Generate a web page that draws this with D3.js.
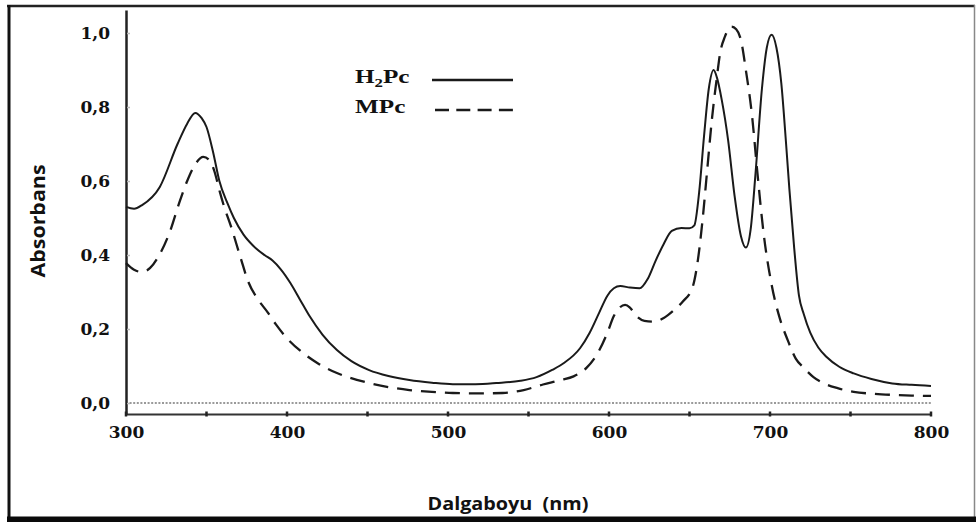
<!DOCTYPE html>
<html>
<head>
<meta charset="utf-8">
<script src="https://cdn.jsdelivr.net/npm/d3@7"></script>
<style>
  html, body { margin: 0; padding: 0; background: #fff; }
  svg { display: block; }
  .tick-label { font-family: "DejaVu Serif", serif; font-weight: bold; font-size: 17px; fill: #111; }
  .legend text { font-family: "Liberation Serif", serif; font-weight: bold; font-size: 18px; fill: #111; }
  .title { font-family: "Open Sans", sans-serif; font-weight: bold; font-size: 18px; fill: #111; white-space: pre; }
</style>
</head>
<body>
<svg id="chart" width="976" height="522"></svg>
<script>
// wavelengths (nm) and absorbance
const h2pcNm = [300, 305, 310, 321, 332, 338, 343, 347, 350, 354, 358, 363, 367, 373, 379, 386, 391, 396,
  402, 408, 414, 422, 431, 440, 451, 463, 476, 490, 503, 517, 530, 545, 555, 565, 572, 582, 588, 594, 599,
  603, 607, 613, 619, 624, 629, 634, 639, 645, 650, 653, 656, 659, 662, 665, 667, 670, 674, 678, 682, 685,
  688, 691, 695, 698, 701, 704, 707, 710, 712, 715, 718, 721, 725, 730, 735, 743, 752, 763, 776, 788, 800];
const h2pcAbs = [0.53, 0.525, 0.535, 0.584, 0.70, 0.755, 0.784, 0.77, 0.746, 0.68, 0.60, 0.54, 0.50, 0.455,
  0.425, 0.40, 0.385, 0.362, 0.325, 0.28, 0.235, 0.185, 0.143, 0.113, 0.089, 0.073, 0.062, 0.055, 0.051, 0.051,
  0.054, 0.06, 0.07, 0.09, 0.108, 0.148, 0.19, 0.245, 0.29, 0.31, 0.316, 0.312, 0.31, 0.335, 0.385, 0.43,
  0.465, 0.473, 0.472, 0.48, 0.57, 0.72, 0.85, 0.90, 0.88, 0.82, 0.71, 0.56, 0.45, 0.42, 0.47, 0.62, 0.85,
  0.96, 0.995, 0.96, 0.865, 0.70, 0.58, 0.42, 0.29, 0.24, 0.19, 0.15, 0.125, 0.098, 0.08, 0.065, 0.053,
  0.049, 0.046];

const mpcNm = [300, 305, 310, 315, 320, 327, 333, 338, 343, 348, 352, 355, 358, 361, 365, 371, 376, 382, 388,
  393, 400, 410, 420, 431, 451, 463, 476, 490, 503, 520, 534, 547, 559, 570, 578, 586, 593, 599, 603, 606,
  610, 613, 617, 622, 628, 634, 640, 646, 652, 655, 658, 661, 664, 667, 669, 672, 676, 679, 682, 685, 689,
  692, 696, 701, 706, 711, 716, 721, 727, 733, 742, 752, 764, 776, 788, 800];
const mpcAbs = [0.378, 0.36, 0.354, 0.365, 0.395, 0.46, 0.54, 0.60, 0.645, 0.665, 0.655, 0.625, 0.575, 0.53,
  0.48, 0.395, 0.327, 0.28, 0.245, 0.213, 0.175, 0.135, 0.105, 0.081, 0.054, 0.043, 0.035, 0.03, 0.027, 0.026,
  0.027, 0.035, 0.05, 0.062, 0.072, 0.095, 0.135, 0.19, 0.235, 0.255, 0.265, 0.258, 0.235, 0.222, 0.22, 0.23,
  0.25, 0.275, 0.314, 0.38, 0.49, 0.63, 0.77, 0.88, 0.945, 0.99, 1.017, 1.01, 0.98, 0.90, 0.77, 0.63, 0.46,
  0.32, 0.23, 0.17, 0.12, 0.095, 0.07, 0.054, 0.04, 0.03, 0.025, 0.022, 0.02, 0.019];

const seriesNames = ["H\u2082Pc", "MPc"];
const xTicks = [300, 400, 500, 600, 700, 800];
const xMinorTicks = [350, 450, 550, 650, 750];
const yTicks = [0, 0.2, 0.4, 0.6, 0.8, 1.0];
const yTickLabels = ["0,0", "0,2", "0,4", "0,6", "0,8", "1,0"];

const svg = d3.select("#chart");

// frame round the figure
svg.append("line").attr("x1", 7).attr("x2", 975).attr("y1", 6).attr("y2", 6)
  .attr("stroke", "#222").attr("stroke-width", 2.5);
svg.append("line").attr("x1", 9).attr("x2", 9).attr("y1", 5).attr("y2", 519)
  .attr("stroke", "#111").attr("stroke-width", 3);
svg.append("line").attr("x1", 974.5).attr("x2", 974.5).attr("y1", 5).attr("y2", 518)
  .attr("stroke", "#888").attr("stroke-width", 1.5);
svg.append("rect").attr("x", 7).attr("y", 516.5).attr("width", 969).attr("height", 6).attr("fill", "#0a0a0a");

const x = d3.scaleLinear().domain([300, 800]).range([126, 931]);
const y = d3.scaleLinear().domain([-11 / 370, 393 / 370]).range([414, 10]);

// baseline at zero
svg.append("line")
  .attr("x1", x(300)).attr("x2", x(800))
  .attr("y1", y(0)).attr("y2", y(0))
  .attr("stroke", "#9a9a9a").attr("stroke-width", 2).attr("stroke-dasharray", "2,1.6");

const xAxis = d3.axisBottom(x).tickValues(xTicks).tickSize(0).tickPadding(12).tickFormat(d3.format("d"));
const yAxis = d3.axisLeft(y).tickValues(yTicks).tickSize(0).tickPadding(16)
  .tickFormat((d, i) => yTickLabels[i]);

const customXAxis = (g) => {
  g.call(xAxis);
  g.select(".domain").attr("stroke", "#333").attr("stroke-width", 2.2);
  g.selectAll(".tick text").attr("class", "tick-label").attr("font-family", null).attr("font-size", null);
  g.selectAll(".dot")
    .data(xTicks.concat(xMinorTicks))
    .join("line")
    .attr("class", "dot")
    .attr("x1", d => x(d)).attr("x2", d => x(d))
    .attr("y1", -2.5).attr("y2", 2.5)
    .attr("stroke", "#222").attr("stroke-width", 2.5);
};

const customYAxis = (g) => {
  g.call(yAxis);
  g.select(".domain").attr("stroke", "#222").attr("stroke-width", 2.5);
  g.selectAll(".tick text").attr("class", "tick-label").attr("font-family", null).attr("font-size", null);
  g.selectAll(".tick line").remove();
  g.selectAll(".tick").append("line")
    .attr("x1", 1).attr("x2", 4)
    .attr("stroke", "#bbb").attr("stroke-width", 1.5);
};

svg.append("g").attr("class", "axis axis-x")
  .attr("transform", `translate(0, ${y.range()[0]})`)
  .call(customXAxis);

svg.append("g").attr("class", "axis axis-y")
  .attr("transform", `translate(${x.range()[0]}, 0)`)
  .call(customYAxis);

const line = d3.line()
  .curve(d3.curveMonotoneX)
  .x(d => x(d[0]))
  .y(d => y(d[1]));

const h2pc = h2pcNm.map((d, i) => [d, h2pcAbs[i]]);
const mpc = mpcNm.map((d, i) => [d, mpcAbs[i]]);

svg.append("path").datum(h2pc)
  .attr("fill", "none").attr("stroke", "#1a1a1a").attr("stroke-width", 2)
  .attr("d", line);

svg.append("path").datum(mpc)
  .attr("fill", "none").attr("stroke", "#1a1a1a").attr("stroke-width", 2.3)
  .attr("stroke-dasharray", "15,9")
  .attr("d", line);

// legend
const legend = svg.append("g").attr("class", "legend");
const l1 = legend.append("text").attr("transform", "translate(355,83) scale(1.4,1)");
l1.append("tspan").text("H");
l1.append("tspan").attr("dy", 4).attr("font-size", 12).text("2");
l1.append("tspan").attr("dy", -4).text("Pc");
legend.append("text").attr("transform", "translate(355,113) scale(1.4,1)").text(seriesNames[1]);
legend.append("line").attr("x1", 432).attr("x2", 513).attr("y1", 80).attr("y2", 80)
  .attr("stroke", "#1a1a1a").attr("stroke-width", 2.5);
legend.append("line").attr("x1", 435).attr("x2", 513).attr("y1", 110).attr("y2", 110)
  .attr("stroke", "#1a1a1a").attr("stroke-width", 2.5).attr("stroke-dasharray", "14,7.3");

// axis titles
svg.append("text").attr("class", "title")
  .attr("text-anchor", "middle")
  .attr("transform", "translate(508,510) scale(1.1,1)")
  .text("Dalgaboyu  (nm)");

svg.append("text").attr("class", "title")
  .attr("text-anchor", "middle")
  .style("font-size", "20px")
  .attr("transform", "translate(45,221) rotate(-90) scale(1.07,1)")
  .text("Absorbans");
</script>
</body>
</html>
